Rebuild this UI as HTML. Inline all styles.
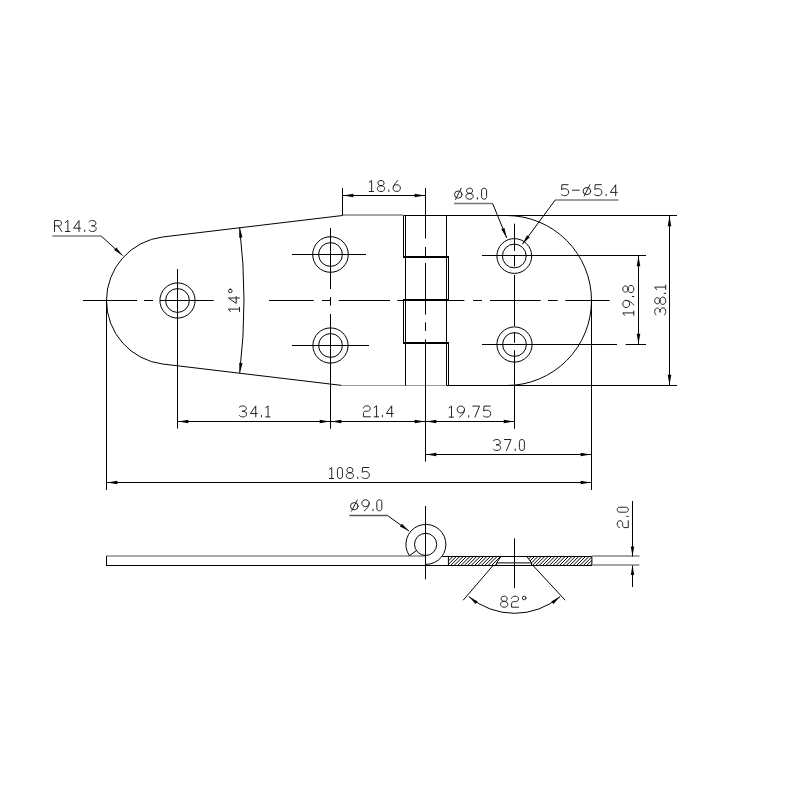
<!DOCTYPE html>
<html><head><meta charset="utf-8"><style>
html,body{margin:0;padding:0;background:#fff;}
svg{display:block;}
text{font-family:"Liberation Sans",sans-serif;}
</style></head><body>
<svg width="800" height="800" viewBox="0 0 800 800">
<rect width="800" height="800" fill="#fff"/>
<path d="M342.5,215.5 L162.91,236.95 A64,64 0 0 0 162.91,364.05 L342.5,385.5" fill="none" stroke="#000" stroke-width="1"/>
<line x1="342.50" y1="215.00" x2="403.00" y2="215.00" stroke="#a4a4a4" stroke-width="2"/>
<line x1="403.50" y1="215.50" x2="677.00" y2="215.50" stroke="#000" stroke-width="1"/>
<line x1="341.00" y1="385.50" x2="447.00" y2="385.50" stroke="#999" stroke-width="1"/>
<line x1="447.00" y1="385.50" x2="677.00" y2="385.50" stroke="#000" stroke-width="1"/>
<path d="M506.5,215.5 A85,85 0 0 1 506.5,385.5" fill="none" stroke="#000" stroke-width="1"/>
<line x1="403.50" y1="215.50" x2="403.50" y2="257.00" stroke="#000" stroke-width="1"/>
<line x1="403.50" y1="300.50" x2="403.50" y2="343.00" stroke="#000" stroke-width="1"/>
<line x1="405.50" y1="215.50" x2="405.50" y2="385.50" stroke="#000" stroke-width="1"/>
<line x1="446.50" y1="215.50" x2="446.50" y2="385.50" stroke="#000" stroke-width="1"/>
<line x1="448.50" y1="257.00" x2="448.50" y2="300.50" stroke="#000" stroke-width="1"/>
<line x1="448.50" y1="343.00" x2="448.50" y2="385.50" stroke="#000" stroke-width="1"/>
<line x1="403.00" y1="257.00" x2="449.00" y2="257.00" stroke="#000" stroke-width="2"/>
<line x1="403.00" y1="300.00" x2="449.00" y2="300.00" stroke="#000" stroke-width="2"/>
<line x1="403.00" y1="343.00" x2="449.00" y2="343.00" stroke="#000" stroke-width="2"/>
<circle cx="177.5" cy="300.5" r="17.6" fill="none" stroke="#000" stroke-width="1"/>
<circle cx="177.5" cy="300.5" r="11.9" fill="none" stroke="#000" stroke-width="1"/>
<circle cx="330.5" cy="254.5" r="17.8" fill="none" stroke="#000" stroke-width="1"/>
<circle cx="330.5" cy="254.5" r="11.9" fill="none" stroke="#000" stroke-width="1"/>
<circle cx="330.5" cy="345.5" r="17.6" fill="none" stroke="#000" stroke-width="1"/>
<circle cx="330.5" cy="345.5" r="11.9" fill="none" stroke="#000" stroke-width="1"/>
<circle cx="514.3" cy="256.0" r="17.4" fill="none" stroke="#000" stroke-width="1"/>
<circle cx="514.3" cy="256.0" r="11.9" fill="none" stroke="#000" stroke-width="1"/>
<circle cx="514.5" cy="344.5" r="17.6" fill="none" stroke="#000" stroke-width="1"/>
<circle cx="514.5" cy="344.5" r="11.9" fill="none" stroke="#000" stroke-width="1"/>
<line x1="83.00" y1="300.50" x2="137.00" y2="300.50" stroke="#000" stroke-width="1"/>
<line x1="144.00" y1="300.50" x2="153.00" y2="300.50" stroke="#000" stroke-width="1"/>
<line x1="160.00" y1="300.50" x2="213.75" y2="300.50" stroke="#000" stroke-width="1"/>
<line x1="269.00" y1="300.50" x2="313.75" y2="300.50" stroke="#000" stroke-width="1"/>
<line x1="322.00" y1="300.50" x2="330.00" y2="300.50" stroke="#000" stroke-width="1"/>
<line x1="338.75" y1="300.50" x2="390.00" y2="300.50" stroke="#000" stroke-width="1"/>
<line x1="397.25" y1="300.50" x2="464.40" y2="300.50" stroke="#000" stroke-width="1"/>
<line x1="473.00" y1="300.50" x2="482.00" y2="300.50" stroke="#000" stroke-width="1"/>
<line x1="490.00" y1="300.50" x2="540.60" y2="300.50" stroke="#000" stroke-width="1"/>
<line x1="548.00" y1="300.50" x2="557.75" y2="300.50" stroke="#000" stroke-width="1"/>
<line x1="565.25" y1="300.50" x2="609.60" y2="300.50" stroke="#000" stroke-width="1"/>
<line x1="425.50" y1="188.00" x2="425.50" y2="238.50" stroke="#000" stroke-width="1"/>
<line x1="425.50" y1="247.00" x2="425.50" y2="256.00" stroke="#000" stroke-width="1"/>
<line x1="425.50" y1="263.00" x2="425.50" y2="314.60" stroke="#000" stroke-width="1"/>
<line x1="425.50" y1="322.40" x2="425.50" y2="330.90" stroke="#000" stroke-width="1"/>
<line x1="425.50" y1="339.30" x2="425.50" y2="461.60" stroke="#000" stroke-width="1"/>
<line x1="177.50" y1="269.00" x2="177.50" y2="428.50" stroke="#000" stroke-width="1"/>
<line x1="292.00" y1="254.50" x2="366.00" y2="254.50" stroke="#000" stroke-width="1"/>
<line x1="330.50" y1="228.00" x2="330.50" y2="289.00" stroke="#000" stroke-width="1"/>
<line x1="330.50" y1="297.00" x2="330.50" y2="305.60" stroke="#000" stroke-width="1"/>
<line x1="330.50" y1="314.00" x2="330.50" y2="428.70" stroke="#000" stroke-width="1"/>
<line x1="292.00" y1="345.50" x2="369.00" y2="345.50" stroke="#000" stroke-width="1"/>
<line x1="482.00" y1="255.50" x2="646.00" y2="255.50" stroke="#000" stroke-width="1"/>
<line x1="514.50" y1="223.70" x2="514.50" y2="251.00" stroke="#000" stroke-width="1"/>
<line x1="514.50" y1="255.00" x2="514.50" y2="266.60" stroke="#000" stroke-width="1"/>
<line x1="514.50" y1="275.00" x2="514.50" y2="326.20" stroke="#000" stroke-width="1"/>
<line x1="514.50" y1="332.30" x2="514.50" y2="342.80" stroke="#000" stroke-width="1"/>
<line x1="514.50" y1="350.20" x2="514.50" y2="428.75" stroke="#000" stroke-width="1"/>
<line x1="482.00" y1="344.50" x2="617.00" y2="344.50" stroke="#000" stroke-width="1"/>
<line x1="625.60" y1="344.50" x2="646.00" y2="344.50" stroke="#000" stroke-width="1"/>
<line x1="106.50" y1="300.50" x2="106.50" y2="490.00" stroke="#000" stroke-width="1"/>
<line x1="591.50" y1="300.50" x2="591.50" y2="490.00" stroke="#000" stroke-width="1"/>
<line x1="342.50" y1="188.00" x2="342.50" y2="215.50" stroke="#000" stroke-width="1"/>
<line x1="342.50" y1="195.50" x2="425.50" y2="195.50" stroke="#000" stroke-width="1"/>
<polygon points="343.30,195.50 353.30,193.70 353.30,197.30" fill="#000"/>
<polygon points="424.70,195.50 414.70,197.30 414.70,193.70" fill="#000"/>
<line x1="177.50" y1="421.50" x2="330.50" y2="421.50" stroke="#000" stroke-width="1"/>
<polygon points="178.30,421.50 188.30,419.70 188.30,423.30" fill="#000"/>
<polygon points="329.70,421.50 319.70,423.30 319.70,419.70" fill="#000"/>
<line x1="330.50" y1="421.50" x2="425.50" y2="421.50" stroke="#000" stroke-width="1"/>
<polygon points="331.30,421.50 341.30,419.70 341.30,423.30" fill="#000"/>
<polygon points="424.70,421.50 414.70,423.30 414.70,419.70" fill="#000"/>
<line x1="425.50" y1="421.50" x2="514.50" y2="421.50" stroke="#000" stroke-width="1"/>
<polygon points="426.30,421.50 436.30,419.70 436.30,423.30" fill="#000"/>
<polygon points="513.70,421.50 503.70,423.30 503.70,419.70" fill="#000"/>
<line x1="425.50" y1="454.50" x2="591.50" y2="454.50" stroke="#000" stroke-width="1"/>
<polygon points="426.30,454.50 436.30,452.70 436.30,456.30" fill="#000"/>
<polygon points="590.70,454.50 580.70,456.30 580.70,452.70" fill="#000"/>
<line x1="106.50" y1="482.50" x2="591.50" y2="482.50" stroke="#000" stroke-width="1"/>
<polygon points="107.30,482.50 117.30,480.70 117.30,484.30" fill="#000"/>
<polygon points="590.70,482.50 580.70,484.30 580.70,480.70" fill="#000"/>
<line x1="669.50" y1="215.50" x2="669.50" y2="385.50" stroke="#000" stroke-width="1"/>
<polygon points="669.50,216.30 671.30,226.30 667.70,226.30" fill="#000"/>
<polygon points="669.50,384.70 667.70,374.70 671.30,374.70" fill="#000"/>
<line x1="638.50" y1="255.50" x2="638.50" y2="344.50" stroke="#000" stroke-width="1"/>
<polygon points="638.50,256.30 640.30,266.30 636.70,266.30" fill="#000"/>
<polygon points="638.50,343.70 636.70,333.70 640.30,333.70" fill="#000"/>
<path d="M239.65,227.64 A613,613 0 0 1 239.70,372.96" fill="none" stroke="#000" stroke-width="1"/>
<polygon points="239.65,227.64 242.53,237.37 239.16,237.77" fill="#000"/>
<polygon points="239.70,372.96 239.20,362.83 242.57,363.24" fill="#000"/>
<line x1="52.30" y1="236.00" x2="101.20" y2="236.00" stroke="#a0a0a0" stroke-width="2"/>
<line x1="101.20" y1="236.00" x2="122.60" y2="255.60" stroke="#000" stroke-width="1"/>
<polygon points="122.60,255.60 114.08,250.10 116.37,247.59" fill="#000"/>
<line x1="454.00" y1="203.50" x2="492.70" y2="203.50" stroke="#777" stroke-width="1.4"/>
<line x1="492.70" y1="203.60" x2="506.70" y2="237.90" stroke="#000" stroke-width="1"/>
<polygon points="506.70,237.90 501.35,229.28 504.49,228.00" fill="#000"/>
<line x1="555.40" y1="200.00" x2="618.40" y2="200.00" stroke="#a0a0a0" stroke-width="2"/>
<line x1="555.40" y1="199.80" x2="522.40" y2="244.30" stroke="#000" stroke-width="1"/>
<polygon points="522.40,244.30 526.99,235.26 529.72,237.28" fill="#000"/>
<g transform="translate(54,220.0)" fill="none" stroke="#222" stroke-width="1.0" stroke-linecap="round" stroke-linejoin="round"><path transform="translate(0.00,0)" d="M0.5,11.5 L0.5,0.5 L4.3,0.5 C6.4,0.5 7.5,1.6 7.5,3.2 C7.5,4.8 6.4,5.9 4.3,5.9 L0.5,5.9 M4.2,5.9 L7.7,11.5"/> <path transform="translate(11.00,0)" d="M0.5,2.3 L2.9,0.5 L2.9,11.5 M0.5,11.5 L4.8,11.5"/> <path transform="translate(19.10,0)" d="M5.9,11.5 L5.9,0.5 L0.5,8.2 L7.4,8.2"/> <path transform="translate(30.20,0)" d="M0.5,10 L0.5,11.5"/> <path transform="translate(34.40,0)" d="M0.6,1.8 C1.4,0.9 2.6,0.5 4.1,0.5 C6.3,0.5 7.5,1.6 7.5,3.2 C7.5,4.8 6.3,5.8 3.6,5.8 M3.6,5.8 C6.4,5.8 7.8,7 7.8,8.7 C7.8,10.5 6.3,11.5 4.1,11.5 C2.5,11.5 1.2,11 0.5,10.1"/></g>
<g transform="translate(368.75,180)" fill="none" stroke="#222" stroke-width="1.0" stroke-linecap="round" stroke-linejoin="round"><path transform="translate(0.00,0)" d="M0.5,2.3 L2.9,0.5 L2.9,11.5 M0.5,11.5 L4.8,11.5"/> <path transform="translate(8.10,0)" d="M4.15,5.7 C2.2,5.7 1.1,4.6 1.1,3.1 C1.1,1.5 2.3,0.5 4.15,0.5 C6,0.5 7.2,1.5 7.2,3.1 C7.2,4.6 6.1,5.7 4.15,5.7 C1.9,5.7 0.5,6.9 0.5,8.6 C0.5,10.4 2,11.5 4.15,11.5 C6.3,11.5 7.8,10.4 7.8,8.6 C7.8,6.9 6.4,5.7 4.15,5.7 Z"/> <path transform="translate(19.60,0)" d="M0.5,10 L0.5,11.5"/> <path transform="translate(23.80,0)" d="M5.2,0.5 C3.4,2.6 0.5,5.4 0.5,8.1 C0.5,10.2 2,11.5 4.15,11.5 C6.3,11.5 7.8,10.2 7.8,8.1 C7.8,6 6.3,4.7 4.15,4.7 C2.6,4.7 1.3,5.4 0.7,6.6"/></g>
<g transform="translate(454,187.7)" fill="none" stroke="#222" stroke-width="1.0" stroke-linecap="round" stroke-linejoin="round"><path transform="translate(0.00,0)" d="M8.1,6.9 A3.8,3.6 0 1 1 0.5,6.9 A3.8,3.6 0 1 1 8.1,6.9 Z M1.6,11.8 L7.2,0.6"/> <path transform="translate(11.40,0)" d="M4.15,5.7 C2.2,5.7 1.1,4.6 1.1,3.1 C1.1,1.5 2.3,0.5 4.15,0.5 C6,0.5 7.2,1.5 7.2,3.1 C7.2,4.6 6.1,5.7 4.15,5.7 C1.9,5.7 0.5,6.9 0.5,8.6 C0.5,10.4 2,11.5 4.15,11.5 C6.3,11.5 7.8,10.4 7.8,8.6 C7.8,6.9 6.4,5.7 4.15,5.7 Z"/> <path transform="translate(22.90,0)" d="M0.5,10 L0.5,11.5"/> <path transform="translate(27.10,0)" d="M0.5,3.1 C0.5,1.3 1.5,0.5 3.0,0.5 C4.5,0.5 5.5,1.3 5.5,3.1 L5.5,8.9 C5.5,10.7 4.5,11.5 3.0,11.5 C1.5,11.5 0.5,10.7 0.5,8.9 Z"/></g>
<g transform="translate(560.7,184.2)" fill="none" stroke="#222" stroke-width="1.0" stroke-linecap="round" stroke-linejoin="round"><path transform="translate(0.00,0)" d="M7.4,0.5 L1.2,0.5 L0.8,5.3 C1.7,4.8 2.8,4.5 4,4.5 C6.4,4.5 7.9,5.9 7.9,8 C7.9,10.2 6.4,11.5 4,11.5 C2.4,11.5 1.2,11 0.5,10.2"/> <path transform="translate(11.20,0)" d="M0.5,6 L7.4,6"/> <path transform="translate(21.90,0)" d="M8.1,6.9 A3.8,3.6 0 1 1 0.5,6.9 A3.8,3.6 0 1 1 8.1,6.9 Z M1.6,11.8 L7.2,0.6"/> <path transform="translate(33.30,0)" d="M7.4,0.5 L1.2,0.5 L0.8,5.3 C1.7,4.8 2.8,4.5 4,4.5 C6.4,4.5 7.9,5.9 7.9,8 C7.9,10.2 6.4,11.5 4,11.5 C2.4,11.5 1.2,11 0.5,10.2"/> <path transform="translate(44.90,0)" d="M0.5,10 L0.5,11.5"/> <path transform="translate(49.10,0)" d="M5.9,11.5 L5.9,0.5 L0.5,8.2 L7.4,8.2"/></g>
<g transform="translate(240,312) rotate(-90) translate(0,-12)" fill="none" stroke="#222" stroke-width="1.0" stroke-linecap="round" stroke-linejoin="round"><path transform="translate(0.00,0)" d="M0.5,2.3 L2.9,0.5 L2.9,11.5 M0.5,11.5 L4.8,11.5"/> <path transform="translate(8.10,0)" d="M5.9,11.5 L5.9,0.5 L0.5,8.2 L7.4,8.2"/> <path transform="translate(18.80,0)" d="M4.1,2.3 A1.8,1.8 0 1 1 0.5,2.3 A1.8,1.8 0 1 1 4.1,2.3 Z"/></g>
<g transform="translate(238.75,405.4)" fill="none" stroke="#222" stroke-width="1.0" stroke-linecap="round" stroke-linejoin="round"><path transform="translate(0.00,0)" d="M0.6,1.8 C1.4,0.9 2.6,0.5 4.1,0.5 C6.3,0.5 7.5,1.6 7.5,3.2 C7.5,4.8 6.3,5.8 3.6,5.8 M3.6,5.8 C6.4,5.8 7.8,7 7.8,8.7 C7.8,10.5 6.3,11.5 4.1,11.5 C2.5,11.5 1.2,11 0.5,10.1"/> <path transform="translate(11.10,0)" d="M5.9,11.5 L5.9,0.5 L0.5,8.2 L7.4,8.2"/> <path transform="translate(22.20,0)" d="M0.5,10 L0.5,11.5"/> <path transform="translate(26.40,0)" d="M0.5,2.3 L2.9,0.5 L2.9,11.5 M0.5,11.5 L4.8,11.5"/></g>
<g transform="translate(362.9,405.3)" fill="none" stroke="#222" stroke-width="1.0" stroke-linecap="round" stroke-linejoin="round"><path transform="translate(0.00,0)" d="M0.5,2.7 C0.9,1.2 2.1,0.5 3.9,0.5 C6,0.5 7.4,1.4 7.4,3.1 C7.4,4.8 6.4,5.9 4.6,5.9 L2.6,5.9 C1.3,5.9 0.5,6.8 0.5,8.2 L0.5,11.5 L7.5,11.5"/> <path transform="translate(10.80,0)" d="M0.5,2.3 L2.9,0.5 L2.9,11.5 M0.5,11.5 L4.8,11.5"/> <path transform="translate(19.00,0)" d="M0.5,10 L0.5,11.5"/> <path transform="translate(22.90,0)" d="M5.9,11.5 L5.9,0.5 L0.5,8.2 L7.4,8.2"/></g>
<g transform="translate(448.6,405.6)" fill="none" stroke="#222" stroke-width="1.0" stroke-linecap="round" stroke-linejoin="round"><path transform="translate(0.00,0)" d="M0.5,2.3 L2.9,0.5 L2.9,11.5 M0.5,11.5 L4.8,11.5"/> <path transform="translate(8.10,0)" d="M7.8,3.9 C7.8,5.9 6.3,7.3 4.15,7.3 C2,7.3 0.5,5.9 0.5,3.9 C0.5,1.9 2,0.5 4.15,0.5 C6.3,0.5 7.8,1.9 7.8,3.9 C7.8,6.6 5.6,9.6 3.0,11.5"/> <path transform="translate(19.60,0)" d="M0.5,10 L0.5,11.5"/> <path transform="translate(23.80,0)" d="M0.5,0.5 L7.1,0.5 L2.6,11.5"/> <path transform="translate(34.20,0)" d="M7.4,0.5 L1.2,0.5 L0.8,5.3 C1.7,4.8 2.8,4.5 4,4.5 C6.4,4.5 7.9,5.9 7.9,8 C7.9,10.2 6.4,11.5 4,11.5 C2.4,11.5 1.2,11 0.5,10.2"/></g>
<g transform="translate(492.8,439)" fill="none" stroke="#222" stroke-width="1.0" stroke-linecap="round" stroke-linejoin="round"><path transform="translate(0.00,0)" d="M0.6,1.8 C1.4,0.9 2.6,0.5 4.1,0.5 C6.3,0.5 7.5,1.6 7.5,3.2 C7.5,4.8 6.3,5.8 3.6,5.8 M3.6,5.8 C6.4,5.8 7.8,7 7.8,8.7 C7.8,10.5 6.3,11.5 4.1,11.5 C2.5,11.5 1.2,11 0.5,10.1"/> <path transform="translate(11.10,0)" d="M0.5,0.5 L7.1,0.5 L2.6,11.5"/> <path transform="translate(21.90,0)" d="M0.5,10 L0.5,11.5"/> <path transform="translate(26.10,0)" d="M0.5,3.1 C0.5,1.3 1.5,0.5 3.0,0.5 C4.5,0.5 5.5,1.3 5.5,3.1 L5.5,8.9 C5.5,10.7 4.5,11.5 3.0,11.5 C1.5,11.5 0.5,10.7 0.5,8.9 Z"/></g>
<g transform="translate(328.85,467)" fill="none" stroke="#222" stroke-width="1.0" stroke-linecap="round" stroke-linejoin="round"><path transform="translate(0.00,0)" d="M0.5,2.3 L2.9,0.5 L2.9,11.5 M0.5,11.5 L4.8,11.5"/> <path transform="translate(8.10,0)" d="M0.5,3.1 C0.5,1.3 1.5,0.5 3.0,0.5 C4.5,0.5 5.5,1.3 5.5,3.1 L5.5,8.9 C5.5,10.7 4.5,11.5 3.0,11.5 C1.5,11.5 0.5,10.7 0.5,8.9 Z"/> <path transform="translate(16.90,0)" d="M4.15,5.7 C2.2,5.7 1.1,4.6 1.1,3.1 C1.1,1.5 2.3,0.5 4.15,0.5 C6,0.5 7.2,1.5 7.2,3.1 C7.2,4.6 6.1,5.7 4.15,5.7 C1.9,5.7 0.5,6.9 0.5,8.6 C0.5,10.4 2,11.5 4.15,11.5 C6.3,11.5 7.8,10.4 7.8,8.6 C7.8,6.9 6.4,5.7 4.15,5.7 Z"/> <path transform="translate(28.40,0)" d="M0.5,10 L0.5,11.5"/> <path transform="translate(32.60,0)" d="M7.4,0.5 L1.2,0.5 L0.8,5.3 C1.7,4.8 2.8,4.5 4,4.5 C6.4,4.5 7.9,5.9 7.9,8 C7.9,10.2 6.4,11.5 4,11.5 C2.4,11.5 1.2,11 0.5,10.2"/></g>
<g transform="translate(634.3,315.8) rotate(-90) translate(0,-12)" fill="none" stroke="#222" stroke-width="1.0" stroke-linecap="round" stroke-linejoin="round"><path transform="translate(0.00,0)" d="M0.5,2.3 L2.9,0.5 L2.9,11.5 M0.5,11.5 L4.8,11.5"/> <path transform="translate(7.70,0)" d="M7.8,3.9 C7.8,5.9 6.3,7.3 4.15,7.3 C2,7.3 0.5,5.9 0.5,3.9 C0.5,1.9 2,0.5 4.15,0.5 C6.3,0.5 7.8,1.9 7.8,3.9 C7.8,6.6 5.6,9.6 3.0,11.5"/> <path transform="translate(18.80,0)" d="M0.5,10 L0.5,11.5"/> <path transform="translate(22.60,0)" d="M4.15,5.7 C2.2,5.7 1.1,4.6 1.1,3.1 C1.1,1.5 2.3,0.5 4.15,0.5 C6,0.5 7.2,1.5 7.2,3.1 C7.2,4.6 6.1,5.7 4.15,5.7 C1.9,5.7 0.5,6.9 0.5,8.6 C0.5,10.4 2,11.5 4.15,11.5 C6.3,11.5 7.8,10.4 7.8,8.6 C7.8,6.9 6.4,5.7 4.15,5.7 Z"/></g>
<g transform="translate(666.2,315.6) rotate(-90) translate(0,-12)" fill="none" stroke="#222" stroke-width="1.0" stroke-linecap="round" stroke-linejoin="round"><path transform="translate(0.00,0)" d="M0.6,1.8 C1.4,0.9 2.6,0.5 4.1,0.5 C6.3,0.5 7.5,1.6 7.5,3.2 C7.5,4.8 6.3,5.8 3.6,5.8 M3.6,5.8 C6.4,5.8 7.8,7 7.8,8.7 C7.8,10.5 6.3,11.5 4.1,11.5 C2.5,11.5 1.2,11 0.5,10.1"/> <path transform="translate(10.70,0)" d="M4.15,5.7 C2.2,5.7 1.1,4.6 1.1,3.1 C1.1,1.5 2.3,0.5 4.15,0.5 C6,0.5 7.2,1.5 7.2,3.1 C7.2,4.6 6.1,5.7 4.15,5.7 C1.9,5.7 0.5,6.9 0.5,8.6 C0.5,10.4 2,11.5 4.15,11.5 C6.3,11.5 7.8,10.4 7.8,8.6 C7.8,6.9 6.4,5.7 4.15,5.7 Z"/> <path transform="translate(21.80,0)" d="M0.5,10 L0.5,11.5"/> <path transform="translate(25.60,0)" d="M0.5,2.3 L2.9,0.5 L2.9,11.5 M0.5,11.5 L4.8,11.5"/></g>
<line x1="106.50" y1="556.00" x2="425.70" y2="556.00" stroke="#a8a8a8" stroke-width="2"/>
<line x1="106.50" y1="565.50" x2="591.90" y2="565.50" stroke="#000" stroke-width="1"/>
<line x1="106.50" y1="556.00" x2="106.50" y2="566.00" stroke="#000" stroke-width="1"/>
<path d="M409.4,555.7 A20.0,20.0 0 1 1 425.7,564.40" fill="none" stroke="#000" stroke-width="1"/>
<line x1="409.40" y1="555.70" x2="416.00" y2="550.90" stroke="#000" stroke-width="1"/>
<circle cx="425.6" cy="544.4" r="11.1" fill="none" stroke="#000" stroke-width="1"/>
<line x1="442.30" y1="556.50" x2="591.90" y2="556.50" stroke="#000" stroke-width="1"/>
<line x1="591.90" y1="556.50" x2="591.90" y2="565.50" stroke="#000" stroke-width="1"/>
<line x1="448.40" y1="556.50" x2="448.40" y2="565.50" stroke="#000" stroke-width="1"/>
<line x1="496.60" y1="562.90" x2="531.60" y2="562.90" stroke="#000" stroke-width="1"/>
<line x1="501.00" y1="556.50" x2="496.60" y2="562.90" stroke="#000" stroke-width="1"/>
<line x1="496.60" y1="562.90" x2="496.60" y2="565.50" stroke="#000" stroke-width="1"/>
<line x1="526.80" y1="556.50" x2="531.60" y2="562.90" stroke="#000" stroke-width="1"/>
<line x1="531.60" y1="562.90" x2="531.60" y2="565.50" stroke="#000" stroke-width="1"/>
<line x1="501.00" y1="556.50" x2="526.80" y2="556.50" stroke="#000" stroke-width="1"/>
<clipPath id="hl"><polygon points="448.4,556 501,556 496.6,562.9 496.6,565.5 448.4,565.5"/></clipPath>
<clipPath id="hr"><polygon points="526.8,556 591.9,556 591.9,565.5 531.6,565.5 531.6,562.9"/></clipPath>
<path d="M406.00,566 L416.00,556 M409.40,566 L419.40,556 M412.80,566 L422.80,556 M416.20,566 L426.20,556 M419.60,566 L429.60,556 M423.00,566 L433.00,556 M426.40,566 L436.40,556 M429.80,566 L439.80,556 M433.20,566 L443.20,556 M436.60,566 L446.60,556 M440.00,566 L450.00,556 M443.40,566 L453.40,556 M446.80,566 L456.80,556 M450.20,566 L460.20,556 M453.60,566 L463.60,556 M457.00,566 L467.00,556 M460.40,566 L470.40,556 M463.80,566 L473.80,556 M467.20,566 L477.20,556 M470.60,566 L480.60,556 M474.00,566 L484.00,556 M477.40,566 L487.40,556 M480.80,566 L490.80,556 M484.20,566 L494.20,556 M487.60,566 L497.60,556 M491.00,566 L501.00,556 M494.40,566 L504.40,556 M497.80,566 L507.80,556 M501.20,566 L511.20,556 M504.60,566 L514.60,556 M508.00,566 L518.00,556 M511.40,566 L521.40,556 M514.80,566 L524.80,556 M518.20,566 L528.20,556 M521.60,566 L531.60,556 M525.00,566 L535.00,556 M528.40,566 L538.40,556 M531.80,566 L541.80,556 M535.20,566 L545.20,556 M538.60,566 L548.60,556 M542.00,566 L552.00,556 M545.40,566 L555.40,556 M548.80,566 L558.80,556 M552.20,566 L562.20,556 M555.60,566 L565.60,556 M559.00,566 L569.00,556 M562.40,566 L572.40,556 M565.80,566 L575.80,556 M569.20,566 L579.20,556 M572.60,566 L582.60,556 M576.00,566 L586.00,556 M579.40,566 L589.40,556 M582.80,566 L592.80,556 M586.20,566 L596.20,556 M589.60,566 L599.60,556 M593.00,566 L603.00,556 M596.40,566 L606.40,556 M599.80,566 L609.80,556 M603.20,566 L613.20,556 M606.60,566 L616.60,556 M610.00,566 L620.00,556 M613.40,566 L623.40,556 M616.80,566 L626.80,556 M620.20,566 L630.20,556 M623.60,566 L633.60,556 M627.00,566 L637.00,556 M630.40,566 L640.40,556 M633.80,566 L643.80,556 M637.20,566 L647.20,556 M640.60,566 L650.60,556" stroke="#000" stroke-width="1" clip-path="url(#hl)"/>
<path d="M406.00,566 L416.00,556 M409.40,566 L419.40,556 M412.80,566 L422.80,556 M416.20,566 L426.20,556 M419.60,566 L429.60,556 M423.00,566 L433.00,556 M426.40,566 L436.40,556 M429.80,566 L439.80,556 M433.20,566 L443.20,556 M436.60,566 L446.60,556 M440.00,566 L450.00,556 M443.40,566 L453.40,556 M446.80,566 L456.80,556 M450.20,566 L460.20,556 M453.60,566 L463.60,556 M457.00,566 L467.00,556 M460.40,566 L470.40,556 M463.80,566 L473.80,556 M467.20,566 L477.20,556 M470.60,566 L480.60,556 M474.00,566 L484.00,556 M477.40,566 L487.40,556 M480.80,566 L490.80,556 M484.20,566 L494.20,556 M487.60,566 L497.60,556 M491.00,566 L501.00,556 M494.40,566 L504.40,556 M497.80,566 L507.80,556 M501.20,566 L511.20,556 M504.60,566 L514.60,556 M508.00,566 L518.00,556 M511.40,566 L521.40,556 M514.80,566 L524.80,556 M518.20,566 L528.20,556 M521.60,566 L531.60,556 M525.00,566 L535.00,556 M528.40,566 L538.40,556 M531.80,566 L541.80,556 M535.20,566 L545.20,556 M538.60,566 L548.60,556 M542.00,566 L552.00,556 M545.40,566 L555.40,556 M548.80,566 L558.80,556 M552.20,566 L562.20,556 M555.60,566 L565.60,556 M559.00,566 L569.00,556 M562.40,566 L572.40,556 M565.80,566 L575.80,556 M569.20,566 L579.20,556 M572.60,566 L582.60,556 M576.00,566 L586.00,556 M579.40,566 L589.40,556 M582.80,566 L592.80,556 M586.20,566 L596.20,556 M589.60,566 L599.60,556 M593.00,566 L603.00,556 M596.40,566 L606.40,556 M599.80,566 L609.80,556 M603.20,566 L613.20,556 M606.60,566 L616.60,556 M610.00,566 L620.00,556 M613.40,566 L623.40,556 M616.80,566 L626.80,556 M620.20,566 L630.20,556 M623.60,566 L633.60,556 M627.00,566 L637.00,556 M630.40,566 L640.40,556 M633.80,566 L643.80,556 M637.20,566 L647.20,556 M640.60,566 L650.60,556" stroke="#000" stroke-width="1" clip-path="url(#hr)"/>
<line x1="425.50" y1="506.00" x2="425.50" y2="579.30" stroke="#000" stroke-width="1"/>
<line x1="514.50" y1="538.40" x2="514.50" y2="588.20" stroke="#000" stroke-width="1"/>
<line x1="493.00" y1="565.50" x2="463.20" y2="600.20" stroke="#000" stroke-width="1"/>
<line x1="533.00" y1="565.50" x2="565.20" y2="600.20" stroke="#000" stroke-width="1"/>
<path d="M468.8,596.5 A70.5,70.5 0 0 0 560.2,596.5" fill="none" stroke="#000" stroke-width="1"/>
<polygon points="468.80,596.50 477.69,601.39 475.57,604.05" fill="#000"/>
<polygon points="560.20,596.50 553.43,604.05 551.31,601.39" fill="#000"/>
<g transform="translate(500,595.7)" fill="none" stroke="#222" stroke-width="1.0" stroke-linecap="round" stroke-linejoin="round"><path transform="translate(0.00,0)" d="M4.15,5.7 C2.2,5.7 1.1,4.6 1.1,3.1 C1.1,1.5 2.3,0.5 4.15,0.5 C6,0.5 7.2,1.5 7.2,3.1 C7.2,4.6 6.1,5.7 4.15,5.7 C1.9,5.7 0.5,6.9 0.5,8.6 C0.5,10.4 2,11.5 4.15,11.5 C6.3,11.5 7.8,10.4 7.8,8.6 C7.8,6.9 6.4,5.7 4.15,5.7 Z"/> <path transform="translate(11.10,0)" d="M0.5,2.7 C0.9,1.2 2.1,0.5 3.9,0.5 C6,0.5 7.4,1.4 7.4,3.1 C7.4,4.8 6.4,5.9 4.6,5.9 L2.6,5.9 C1.3,5.9 0.5,6.8 0.5,8.2 L0.5,11.5 L7.5,11.5"/> <path transform="translate(21.90,0)" d="M4.1,2.3 A1.8,1.8 0 1 1 0.5,2.3 A1.8,1.8 0 1 1 4.1,2.3 Z"/></g>
<line x1="349.50" y1="515.50" x2="387.50" y2="515.50" stroke="#555" stroke-width="1.3"/>
<line x1="387.50" y1="515.50" x2="409.00" y2="531.00" stroke="#000" stroke-width="1"/>
<polygon points="409.00,531.00 399.89,526.53 401.88,523.77" fill="#000"/>
<g transform="translate(350,499.3)" fill="none" stroke="#222" stroke-width="1.0" stroke-linecap="round" stroke-linejoin="round"><path transform="translate(0.00,0)" d="M8.1,6.9 A3.8,3.6 0 1 1 0.5,6.9 A3.8,3.6 0 1 1 8.1,6.9 Z M1.6,11.8 L7.2,0.6"/> <path transform="translate(11.40,0)" d="M7.8,3.9 C7.8,5.9 6.3,7.3 4.15,7.3 C2,7.3 0.5,5.9 0.5,3.9 C0.5,1.9 2,0.5 4.15,0.5 C6.3,0.5 7.8,1.9 7.8,3.9 C7.8,6.6 5.6,9.6 3.0,11.5"/> <path transform="translate(22.50,0)" d="M0.5,10 L0.5,11.5"/> <path transform="translate(26.30,0)" d="M0.5,3.1 C0.5,1.3 1.5,0.5 3.0,0.5 C4.5,0.5 5.5,1.3 5.5,3.1 L5.5,8.9 C5.5,10.7 4.5,11.5 3.0,11.5 C1.5,11.5 0.5,10.7 0.5,8.9 Z"/></g>
<line x1="591.90" y1="556.00" x2="639.40" y2="556.00" stroke="#a4a4a4" stroke-width="2"/>
<line x1="591.90" y1="565.00" x2="639.40" y2="565.00" stroke="#a4a4a4" stroke-width="2"/>
<line x1="632.50" y1="501.00" x2="632.50" y2="556.50" stroke="#000" stroke-width="1"/>
<polygon points="632.50,556.50 630.80,546.50 634.20,546.50" fill="#000"/>
<line x1="632.50" y1="565.50" x2="632.50" y2="587.00" stroke="#000" stroke-width="1"/>
<polygon points="632.50,565.00 634.20,575.00 630.80,575.00" fill="#000"/>
<g transform="translate(628.75,528.1) rotate(-90) translate(0,-12)" fill="none" stroke="#222" stroke-width="1.0" stroke-linecap="round" stroke-linejoin="round"><path transform="translate(0.00,0)" d="M0.5,2.7 C0.9,1.2 2.1,0.5 3.9,0.5 C6,0.5 7.4,1.4 7.4,3.1 C7.4,4.8 6.4,5.9 4.6,5.9 L2.6,5.9 C1.3,5.9 0.5,6.8 0.5,8.2 L0.5,11.5 L7.5,11.5"/> <path transform="translate(11.20,0)" d="M0.5,10 L0.5,11.5"/> <path transform="translate(15.40,0)" d="M0.5,3.1 C0.5,1.3 1.5,0.5 3.0,0.5 C4.5,0.5 5.5,1.3 5.5,3.1 L5.5,8.9 C5.5,10.7 4.5,11.5 3.0,11.5 C1.5,11.5 0.5,10.7 0.5,8.9 Z"/></g>
</svg></body></html>
